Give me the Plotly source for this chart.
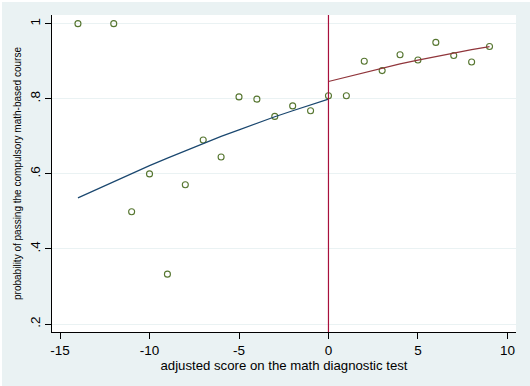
import plotly.graph_objects as go

# Data
score = [-14, -12, -11, -10, -9, -8, -7, -6, -5, -4, -3, -2, -1, 0, 1, 2, 3, 4, 5, 6, 7, 8, 9]
prob = [1.0, 1.0, 0.499, 0.600, 0.333, 0.571, 0.690, 0.645, 0.805, 0.799, 0.753, 0.781, 0.768,
        0.808, 0.808, 0.900, 0.875, 0.917, 0.903, 0.950, 0.915, 0.898, 0.939]

fit_left_x = [-14, -13, -12, -11, -10, -9, -8, -7, -6, -5, -4, -3, -2, -1, 0]
fit_left_y = [0.536, 0.558, 0.580, 0.601, 0.622, 0.642, 0.662, 0.681, 0.700, 0.717, 0.735,
              0.752, 0.768, 0.784, 0.799]
fit_right_x = [0, 1, 2, 3, 4, 5, 6, 7, 8, 9]
fit_right_y = [0.846, 0.858, 0.870, 0.882, 0.893, 0.903, 0.913, 0.922, 0.931, 0.939]

x_ticks = [-15, -10, -5, 0, 5, 10]
x_tick_labels = ["-15", "-10", "-5", "0", "5", "10"]
y_ticks = [0.2, 0.4, 0.6, 0.8, 1.0]
y_tick_labels = [".2", ".4", ".6", ".8", "1"]

W, H = 530, 386
ML, MR, MT, MB = 52, 14, 15, 54
BG = "#EAF2F3"
FONT = "Liberation Sans, Arial, sans-serif"

fig = go.Figure()
fig.add_trace(go.Scatter(x=score, y=prob, mode="markers",
                         marker=dict(symbol="circle-open", size=6, color="#55752F",
                                     line=dict(width=1.1, color="#55752F")),
                         showlegend=False))
fig.add_trace(go.Scatter(x=fit_left_x, y=fit_left_y, mode="lines",
                         line=dict(color="#1A476F", width=1.2), showlegend=False))
fig.add_trace(go.Scatter(x=fit_right_x, y=fit_right_y, mode="lines",
                         line=dict(color="#90353B", width=1.2), showlegend=False))

fig.add_vline(x=0, line=dict(color="#A8103C", width=1.2), layer="above")

pw = W - ML - MR
ph = H - MT - MB
# thin white border on top and left edges of the figure
fig.add_shape(type="rect", xref="paper", yref="paper",
              x0=-ML / pw, x1=(W - ML) / pw, y0=1 + (MT - 2) / ph, y1=1 + MT / ph,
              fillcolor="white", line=dict(width=0), layer="above")
fig.add_shape(type="rect", xref="paper", yref="paper",
              x0=-ML / pw, x1=(2 - ML) / pw, y0=-MB / ph, y1=1 + MT / ph,
              fillcolor="white", line=dict(width=0), layer="above")

fig.update_layout(
    width=W, height=H,
    margin=dict(l=ML, r=MR, t=MT, b=MB, pad=0, autoexpand=False),
    paper_bgcolor=BG, plot_bgcolor="white",
    font=dict(family=FONT, color="black", size=12),
    xaxis=dict(range=[-15.45, 10.48], tickvals=x_ticks, ticktext=x_tick_labels,
               automargin=False,
               showgrid=False, zeroline=False, showline=True, linecolor="black", linewidth=1.2,
               ticks="outside", ticklen=6, tickcolor="black", tickwidth=1,
               tickfont=dict(size=13.5),
               title=dict(text="adjusted score on the math diagnostic test",
                          font=dict(size=13.2), standoff=0)),
    yaxis=dict(range=[0.179, 1.023], tickvals=y_ticks, ticktext=y_tick_labels,
               automargin=False,
               showgrid=True, gridcolor=BG, gridwidth=1.2, zeroline=False,
               showline=True, linecolor="black", linewidth=1.2,
               ticks="outside", ticklen=6, tickcolor="black", tickwidth=1,
               tickangle=-90, tickfont=dict(size=13.5),
               title=dict(text="probability of passing the compulsory math-based course",
                          font=dict(size=10), standoff=4)),
)

fig.write_html("out.html", config={"displayModeBar": False},
               post_script="document.body.style.margin='0';document.body.style.padding='0';")
